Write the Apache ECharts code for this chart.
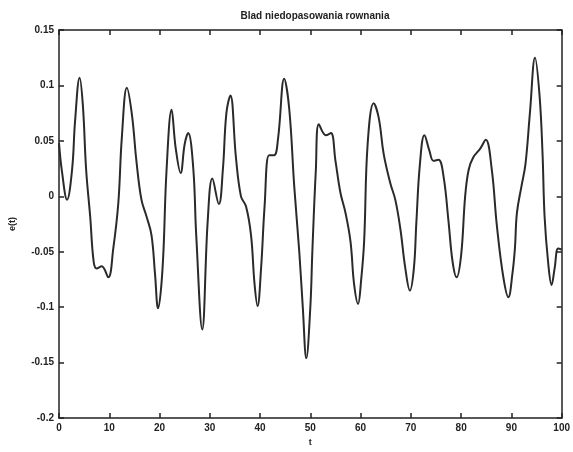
<!DOCTYPE html>
<html>
<head>
    <meta charset="UTF-8">
    <title>Blad niedopasowania rownania</title>
    <script src="https://cdn.jsdelivr.net/npm/echarts@6/dist/echarts.min.js"></script>
</head>
<body style="margin:0;background:#ffffff">
<div id="main" style="width:573px;height:452px"></div>
<script type="text/javascript">
    // czas t
    var tData = [0, 0.6, 1.6, 2.6, 3.2, 4.1, 4.75, 5.4, 6.2, 6.9, 7.5, 8.5, 9.8, 10.8, 11.8, 12.5, 13.5, 14.5,
        15.4, 16.4, 17.4, 18.4, 19.1, 19.7, 20.6, 21.4, 22.4, 23.2, 24.2, 25.0, 25.7, 26.7, 27.3, 28.5,
        29.6, 30.5, 31.8, 32.6, 33.3, 34.1, 35.2, 36.2, 37.2, 38.2, 38.9, 39.5, 40.2, 40.9, 41.8, 42.8,
        43.6, 44.8, 45.8, 46.8, 47.8, 48.5, 49.2, 50.0, 50.4, 51.1, 51.7, 53.1, 54.1, 55.0, 56.0, 57.0,
        58.0, 58.7, 59.5, 60.1, 60.7, 61.4, 62.6, 63.6, 64.6, 65.9, 66.9, 67.9, 68.9, 69.8, 70.6, 71.1,
        71.8, 72.7, 73.7, 74.5, 75.5, 76.5, 77.5, 78.3, 79.1, 80.0, 80.8, 81.5, 82.4, 83.8, 84.9, 86.1,
        87.1, 88.4, 89.4, 90.2, 90.7, 91.1, 92.0, 92.8, 93.7, 94.7, 95.6, 96.2, 96.6, 97.3, 98.0, 98.6,
        99.3, 100];
    // blad e(t)
    var eData = [0.048, 0.022, -0.003, 0.024, 0.068, 0.107, 0.082, 0.024, -0.018, -0.059, -0.065, -0.063, -0.073, -0.047, -0.006, 0.053, 0.098, 0.074,
        0.032, -0.003, -0.018, -0.035, -0.070, -0.101, -0.065, 0.024, 0.078, 0.044, 0.021, 0.047, 0.057, 0.026, -0.035, -0.120,
        -0.021, 0.016, -0.007, 0.024, 0.075, 0.091, 0.035, 0.0, -0.009, -0.035, -0.079, -0.099, -0.065, -0.009, 0.037, 0.037,
        0.053, 0.106, 0.079, 0.009, -0.050, -0.100, -0.146, -0.100, -0.050, 0.024, 0.065, 0.055, 0.057, 0.032, 0.003, -0.015,
        -0.041, -0.079, -0.097, -0.076, -0.041, 0.047, 0.084, 0.071, 0.038, 0.012, -0.003, -0.029, -0.065, -0.085, -0.065, -0.023,
        0.029, 0.055, 0.041, 0.032, 0.033, 0.018, -0.023, -0.059, -0.073, -0.053, 0.0, 0.024, 0.035, 0.043, 0.051, 0.024,
        -0.026, -0.073, -0.091, -0.070, -0.047, -0.015, 0.009, 0.029, 0.076, 0.125, 0.091, 0.038, -0.018, -0.059, -0.080, -0.065,
        -0.047, -0.048];

    var xTicks = {min: 0, max: 100, interval: 10};
    var yTicks = {min: -0.2, max: 0.15, interval: 0.05};

    var points = [];
    for (var i = 0; i < tData.length; i++) {
        points.push([tData[i], eData[i]]);
    }

    var font = 'Liberation Sans, Arial, sans-serif';
    var axisLine = {show: true, onZero: false, lineStyle: {color: '#222', width: 1.5}};
    var tick = {show: true, inside: true, length: 5, lineStyle: {color: '#222', width: 1.5}};

    var myChart = echarts.init(document.getElementById('main'));
    var option = {
        animation: false,
        title: {
            text: 'Blad niedopasowania rownania',
            left: 310,
            top: 6,
            textAlign: 'center',
            textStyle: {fontFamily: font, fontSize: 10, fontWeight: 'bold', color: '#222'}
        },
        grid: {left: 57, right: 11, top: 30, bottom: 25},
        xAxis: [{
            type: 'value',
            min: xTicks.min, max: xTicks.max, interval: xTicks.interval,
            name: 't', nameLocation: 'middle', nameGap: 16,
            nameTextStyle: {fontFamily: font, fontSize: 9, fontWeight: 'bold', color: '#222'},
            axisLine: axisLine, axisTick: tick, splitLine: {show: false},
            axisLabel: {fontFamily: font, fontSize: 10, fontWeight: 'bold', color: '#222', margin: 5}
        }, {
            type: 'value', position: 'top',
            min: xTicks.min, max: xTicks.max, interval: xTicks.interval,
            axisLine: axisLine, axisTick: tick, splitLine: {show: false},
            axisLabel: {show: false}
        }],
        yAxis: [{
            type: 'value',
            min: yTicks.min, max: yTicks.max, interval: yTicks.interval,
            name: 'e(t)', nameLocation: 'middle', nameGap: 42, nameRotate: 90,
            nameTextStyle: {fontFamily: font, fontSize: 9, fontWeight: 'bold', color: '#222'},
            axisLine: axisLine, axisTick: tick, splitLine: {show: false},
            axisLabel: {
                fontFamily: font, fontSize: 10, fontWeight: 'bold', color: '#222', margin: 5,
                formatter: function (v) { return String(Math.round(v * 100) / 100); }
            }
        }, {
            type: 'value', position: 'right',
            min: yTicks.min, max: yTicks.max, interval: yTicks.interval,
            axisLine: axisLine, axisTick: tick, splitLine: {show: false},
            axisLabel: {show: false}
        }],
        series: [{
            type: 'line',
            data: points,
            smooth: 0.4,
            showSymbol: false,
            lineStyle: {color: '#2a2a2a', width: 2}
        }]
    };
    myChart.setOption(option);
</script>
</body>
</html>
